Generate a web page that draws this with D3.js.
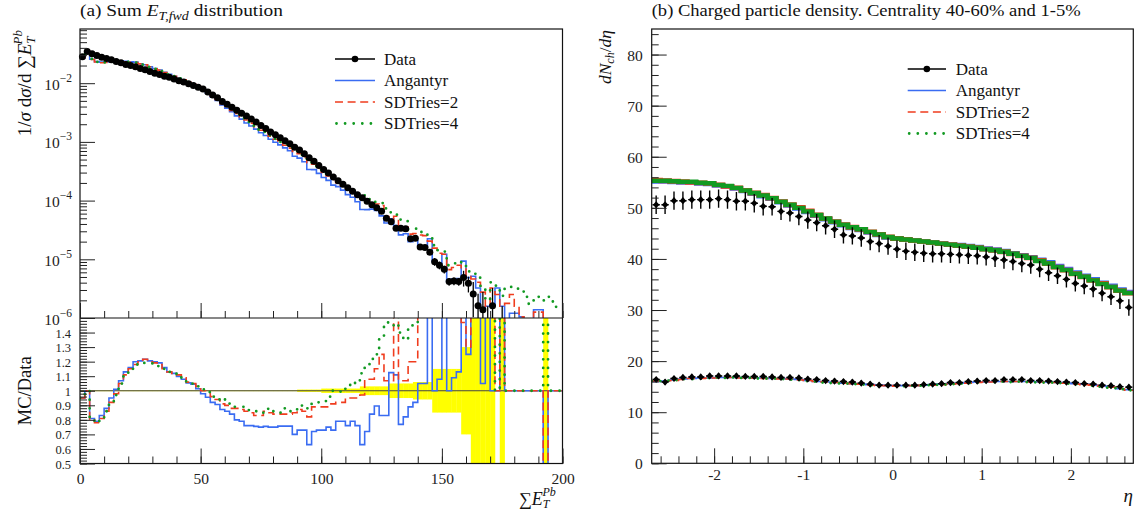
<!DOCTYPE html>
<html><head><meta charset="utf-8">
<script src="https://cdn.jsdelivr.net/npm/d3@7"></script>
<style>body{margin:0;background:#fff}</style>
</head><body>
<script>
// ---------------- DATA ----------------
// (a) Sum E_T (Pb side), bins of width 2 from 0 to 200; values stored as log10 of 1/sigma dsigma/dSumET
const etEdges = d3.range(0, 202, 2);
const etDataLog10 = [-1.55,-1.46,-1.50,-1.53,-1.56,-1.58,-1.60,-1.63,-1.65,-1.68,
 -1.70,-1.72,-1.75,-1.77,-1.80,-1.83,-1.85,-1.88,-1.90,-1.93,
 -1.96,-1.98,-2.01,-2.04,-2.07,-2.10,-2.15,-2.20,-2.25,-2.31,
 -2.36,-2.41,-2.46,-2.51,-2.56,-2.61,-2.66,-2.72,-2.77,-2.83,
 -2.88,-2.93,-2.98,-3.03,-3.09,-3.14,-3.20,-3.27,-3.33,-3.40,
 -3.47,-3.53,-3.60,-3.66,-3.72,-3.78,-3.84,-3.90,-3.95,-4.01,
 -4.07,-4.12,-4.18,-4.30,-4.36,-4.47,-4.47,-4.48,-4.65,-4.64,
 -4.79,-4.80,-4.88,-5.04,-5.10,-5.17,-5.38,-5.37,-5.38,-5.31,
 -5.41,-5.59,-5.79,-5.86,-6.10,-5.79,null,-6.10,null,null,
 null,null,null,null,null,null,-6.40,null,null,null];
const etDataRelErr = [0.003,0.003,0.003,0.003,0.003,0.003,0.003,0.003,0.003,0.003,
 0.003,0.003,0.003,0.003,0.003,0.003,0.003,0.003,0.003,0.003,
 0.003,0.003,0.003,0.003,0.003,0.003,0.003,0.003,0.003,0.003,
 0.003,0.003,0.003,0.003,0.003,0.003,0.003,0.003,0.003,0.003,
 0.003,0.003,0.003,0.003,0.003,0.008,0.008,0.008,0.008,0.008,
 0.015,0.015,0.015,0.015,0.015,0.015,0.015,0.015,0.03,0.03,
 0.03,0.03,0.03,0.03,0.05,0.05,0.05,0.05,0.05,0.06,
 0.06,0.06,0.06,0.15,0.15,0.15,0.15,0.15,0.15,0.3,
 0.3,0.6,0.6,1.0,1.0,1.0,null,1.0,null,null,
 null,null,null,null,null,null,1.0,null,null,null];
const etAngantyrLog10 = [-1.572,-1.46,-1.592,-1.632,-1.641,-1.636,-1.622,-1.626,-1.621,-1.627,
 -1.636,-1.641,-1.669,-1.685,-1.719,-1.751,-1.774,-1.816,-1.847,-1.881,
 -1.919,-1.947,-1.987,-2.021,-2.064,-2.109,-2.170,-2.236,-2.293,-2.370,
 -2.426,-2.486,-2.557,-2.612,-2.679,-2.729,-2.782,-2.845,-2.892,-2.955,
 -3.005,-3.051,-3.101,-3.151,-3.245,-3.277,-3.337,-3.471,-3.473,-3.537,
 -3.607,-3.655,-3.737,-3.762,-3.822,-3.899,-3.942,-4.019,-4.151,-4.153,
 -4.146,-4.168,-4.261,-4.381,-4.309,-4.425,-4.584,-4.566,-4.701,-4.676,
 -4.769,-4.779,-4.650,-5.040,-5.067,-4.915,-5.380,-5.333,-5.327,-5.031,
 -5.313,-5.289,-5.489,-5.839,-5.799,-5.790,-5.490,-5.799,null,-5.92,
 -5.92,-5.98,null,null,-5.86,-5.86,null,null,null,null];
const etSDTries2Log10 = [-1.572,-1.46,-1.597,-1.638,-1.652,-1.646,-1.636,-1.639,-1.629,-1.635,
 -1.639,-1.648,-1.671,-1.685,-1.721,-1.754,-1.778,-1.819,-1.847,-1.881,
 -1.915,-1.943,-1.985,-2.019,-2.057,-2.100,-2.154,-2.218,-2.277,-2.351,
 -2.406,-2.466,-2.516,-2.570,-2.626,-2.681,-2.741,-2.801,-2.836,-2.901,
 -2.956,-3.006,-3.056,-3.106,-3.161,-3.200,-3.266,-3.356,-3.381,-3.451,
 -3.521,-3.581,-3.641,-3.696,-3.756,-3.802,-3.862,-3.922,-3.963,-3.977,
 -4.037,-4.059,-4.083,-4.271,-4.331,-4.266,-4.441,-4.451,-4.571,-4.561,
 -4.586,-4.596,-4.690,-4.810,-4.896,-4.915,-5.176,-5.140,-5.101,-5.143,
 -5.296,-5.335,-5.392,-5.559,-5.799,-5.489,-5.600,-5.799,-5.75,-5.60,
 -5.80,-5.98,-6.05,null,-5.90,-5.90,null,null,null,null];
const etSDTries4Log10 = [-1.572,-1.46,-1.586,-1.638,-1.652,-1.646,-1.636,-1.643,-1.629,-1.639,
 -1.639,-1.648,-1.674,-1.694,-1.724,-1.758,-1.782,-1.819,-1.847,-1.881,
 -1.919,-1.947,-1.985,-2.019,-2.057,-2.096,-2.154,-2.218,-2.277,-2.342,
 -2.387,-2.456,-2.511,-2.561,-2.620,-2.676,-2.726,-2.791,-2.830,-2.886,
 -2.946,-3.001,-3.036,-3.096,-3.150,-3.191,-3.246,-3.326,-3.366,-3.436,
 -3.502,-3.548,-3.600,-3.660,-3.724,-3.767,-3.815,-3.879,-3.901,-3.938,
 -3.984,-4.023,-4.043,-4.133,-4.199,-4.240,-4.324,-4.350,-4.489,-4.479,
 -4.535,-4.570,-4.625,-4.761,-4.845,-4.869,-5.101,-5.069,-5.038,-5.055,
 -5.206,-5.248,-5.313,-5.462,-5.702,-5.392,-5.450,-5.623,-5.50,-5.47,
 -5.50,-5.55,-5.64,-5.76,-5.70,-5.64,-5.70,-5.64,-5.81,-5.81];

// (b) dNch/deta, 54 bins of width 0.1 from -2.7 to 2.7
const etaEdges = d3.range(55).map(i => +(-2.7 + 0.1 * i).toFixed(2));
const cent1to5Data = [50.6,50.6,51.4,51.4,51.6,51.6,51.6,51.8,51.6,51.3,51.3,50.9,50.3,50.2,49.3,49.0,48.3,47.6,47.1,46.5,45.8,44.7,44.5,44.1,43.4,43.0,42.5,
 41.9,41.5,41.3,41.1,41.0,41.0,40.9,40.8,40.7,40.6,40.4,40.1,39.8,39.5,39.1,38.8,38.0,37.3,36.7,36.0,35.2,34.7,34.1,33.3,32.6,31.8,30.5];
const cent1to5Err = [1.8,1.8,1.8,1.8,1.8,1.8,1.8,1.8,1.8,1.8,1.8,1.8,1.8,1.7,1.7,1.7,1.7,1.7,1.7,1.7,1.7,1.7,1.7,1.7,1.7,1.7,1.7,
 1.7,1.7,1.7,1.7,1.7,1.7,1.7,1.7,1.7,1.7,1.7,1.7,1.7,1.7,1.7,1.7,1.6,1.6,1.6,1.6,1.6,1.6,1.6,1.6,1.6,1.6,1.6];
const cent1to5Angantyr = [55.2,55.2,55.1,55.0,55.0,54.8,54.7,54.4,54.2,53.8,53.3,52.8,52.3,51.8,51.1,50.5,49.9,49.2,48.5,47.8,47.2,46.6,46.1,45.7,45.2,44.7,44.2,
 44.0,43.8,43.6,43.4,43.2,43.0,42.8,42.7,42.5,42.3,42.0,41.8,41.5,41.1,40.7,40.3,39.8,39.3,38.6,38.0,37.3,36.7,36.0,35.3,34.7,34.0,33.5];
const cent1to5SDTries2 = [55.4,55.3,55.2,55.1,55.0,54.9,54.8,54.5,54.2,53.9,53.4,52.9,52.5,51.9,51.2,50.6,50.1,49.4,48.6,47.9,47.3,46.7,46.2,45.8,45.3,44.8,44.3,
 44.0,43.8,43.6,43.4,43.2,43.0,42.8,42.6,42.4,42.2,41.9,41.7,41.4,41.0,40.6,40.2,39.7,39.1,38.4,37.8,37.1,36.5,35.8,35.2,34.5,33.8,33.3];
const cent1to5SDTries4 = [55.3,55.3,55.2,55.1,55.1,54.9,54.8,54.5,54.3,53.9,53.4,52.9,52.4,51.9,51.2,50.6,50.0,49.3,48.6,47.9,47.3,46.7,46.2,45.8,45.3,44.8,44.3,
 44.0,43.8,43.6,43.4,43.2,43.0,42.8,42.6,42.4,42.2,41.9,41.7,41.4,41.0,40.6,40.2,39.6,39.1,38.4,37.8,37.1,36.5,35.8,35.1,34.5,33.8,33.3];
const cent40to60Data = [16.4,15.9,16.6,16.8,16.9,16.9,17.1,17.1,17.1,17.1,17.0,17.0,17.0,16.9,16.8,16.8,16.7,16.5,16.4,16.2,16.1,16.0,15.9,15.7,15.5,15.3,15.3,
 15.3,15.3,15.3,15.4,15.5,15.6,15.8,15.8,16.0,16.1,16.2,16.2,16.4,16.4,16.4,16.2,16.2,16.1,16.0,15.9,15.8,15.6,15.5,15.3,15.2,15.0,14.9];
const cent40to60Err = [0.5,0.5,0.5,0.5,0.5,0.5,0.5,0.5,0.5,0.5,0.5,0.5,0.5,0.5,0.5,0.5,0.5,0.5,0.5,0.5,0.5,0.5,0.5,0.5,0.5,0.5,0.5,
 0.5,0.5,0.5,0.5,0.5,0.5,0.5,0.5,0.5,0.5,0.5,0.5,0.5,0.5,0.5,0.5,0.5,0.5,0.5,0.5,0.5,0.5,0.5,0.5,0.5,0.5,0.5];
const cent40to60Angantyr = [16.0,16.1,16.3,16.5,16.6,16.7,16.7,16.8,16.8,16.8,16.8,16.7,16.7,16.6,16.6,16.5,16.4,16.2,16.0,15.9,15.8,15.7,15.6,15.5,15.4,15.3,15.2,
 15.2,15.2,15.2,15.3,15.4,15.5,15.6,15.7,15.8,15.9,15.9,16.0,16.0,16.0,16.0,16.0,15.9,15.9,15.8,15.7,15.6,15.5,15.3,15.1,14.9,14.6,14.4];
const cent40to60SDTries2 = [16.1,16.1,16.2,16.4,16.6,16.6,16.7,16.7,16.8,16.7,16.7,16.7,16.6,16.6,16.5,16.5,16.3,16.2,16.0,15.9,15.8,15.7,15.6,15.5,15.3,15.2,15.2,
 15.1,15.2,15.2,15.3,15.3,15.4,15.5,15.6,15.7,15.8,15.9,15.9,16.0,16.0,16.0,15.9,15.9,15.8,15.8,15.7,15.5,15.4,15.3,15.1,14.9,14.6,14.3];
const cent40to60SDTries4 = [16.1,16.2,16.3,16.5,16.5,16.6,16.7,16.8,16.7,16.8,16.7,16.6,16.6,16.6,16.5,16.4,16.3,16.1,16.0,15.8,15.7,15.6,15.5,15.4,15.3,15.2,15.1,
 15.2,15.1,15.2,15.2,15.3,15.4,15.5,15.6,15.7,15.8,15.9,15.9,16.0,15.9,16.0,15.9,15.8,15.8,15.7,15.6,15.5,15.4,15.2,15.0,14.8,14.5,14.3];

const legendLabels = ["Data", "Angantyr", "SDTries=2", "SDTries=4"];
const etLogTicks = [1e-6, 1e-5, 1e-4, 1e-3, 1e-2];
const etLogTickExp = ["−6", "−5", "−4", "−3", "−2"];
const etXTicks = [0, 50, 100, 150, 200];
const ratioTicks = [0.5, 0.6, 0.7, 0.8, 0.9, 1.0, 1.1, 1.2, 1.3, 1.4];
const etaTicks = [-2, -1, 0, 1, 2];
const nchTicks = [0, 10, 20, 30, 40, 50, 60, 70, 80];

// ---------------- STYLE / LAYOUT ----------------
const COL = {blue: "#3a6cf2", red: "#f03c1e", green: "#129a22", yellow: "#ffff00"};
const FONT = '"Liberation Serif", "DejaVu Serif", serif';
const L = {x0: 80, x1: 562.5, top: 29, split: 318, bot: 463.5};
const R = {x0: 651.7, x1: 1133.3, top: 29, bot: 463.3};

const svg = d3.select("body").append("svg").attr("width", 1135).attr("height", 513)
  .style("font-family", FONT);

const xE = d3.scaleLinear().domain([0, 200]).range([L.x0, L.x1]);
const yM = d3.scaleLog().domain([1e-6, 0.0838]).range([L.split, L.top]);
const yRat = d3.scaleLinear().domain([0.5, 1.5]).range([L.bot, L.split]);
const xEta = d3.scaleLinear().domain([-2.7, 2.7]).range([R.x0, R.x1]);
const yN = d3.scaleLinear().domain([0, 85]).range([R.bot, R.top]);

const defs = svg.append("defs");
function clip(id, x, y, w, h) {
  defs.append("clipPath").attr("id", id).append("rect").attr("x", x).attr("y", y).attr("width", w).attr("height", h);
}
clip("cMain", L.x0, L.top, L.x1 - L.x0, L.split - L.top);
clip("cMainPts", L.x0 - 6, L.top, L.x1 - L.x0 + 6, L.split - L.top);
clip("cRat", L.x0, L.split, L.x1 - L.x0, L.bot - L.split);
clip("cR", R.x0, R.top, R.x1 - R.x0, R.bot - R.top);

function stepPts(edges, vals, fill) {
  return vals.flatMap((v, i) => { const y = (v == null) ? fill : v; return [[edges[i], y], [edges[i + 1], y]]; });
}
const styles = {
  blue: {stroke: COL.blue, w: 1.6, dash: null, cap: "butt"},
  red: {stroke: COL.red, w: 1.6, dash: "8,4.6", cap: "butt"},
  green: {stroke: COL.green, w: 2.8, dash: "0,8.6", cap: "round"}
};
function drawStep(g, pts, xs, ys, st) {
  g.append("path").datum(pts)
    .attr("d", d3.line().x(d => xs(d[0])).y(d => ys(d[1])))
    .attr("fill", "none").attr("stroke", st.stroke).attr("stroke-width", st.w)
    .attr("stroke-dasharray", st.dash).attr("stroke-linecap", st.cap).attr("stroke-linejoin", "miter");
}

// ---------------- PANEL (a) main ----------------
const toVal = a => a.map(v => v == null ? null : Math.pow(10, v));
const gMain = svg.append("g").attr("clip-path", "url(#cMain)");
const mcSets = [[etAngantyrLog10, styles.blue], [etSDTries2Log10, styles.red], [etSDTries4Log10, styles.green]];
mcSets.forEach(([arr, st]) => drawStep(gMain, stepPts(etEdges, toVal(arr), 1e-12), xE, yM, st));

const gPts = svg.append("g").attr("clip-path", "url(#cMainPts)");
const etPts = etDataLog10.map((v, i) => ({x: (etEdges[i] + etEdges[i + 1]) / 2, v: v == null ? null : Math.pow(10, v), e: etDataRelErr[i]}))
  .filter(d => d.v != null);
gPts.selectAll("line.err").data(etPts).join("line")
  .attr("x1", d => xE(d.x)).attr("x2", d => xE(d.x))
  .attr("y1", d => yM(Math.max(d.v * (1 - d.e), 1e-12))).attr("y2", d => yM(d.v * (1 + d.e)))
  .attr("stroke", "#000").attr("stroke-width", 1.3);
gPts.selectAll("circle").data(etPts).join("circle")
  .attr("cx", d => xE(d.x)).attr("cy", d => yM(d.v)).attr("r", 3.5).attr("fill", "#000");

// ---------------- PANEL (a) ratio ----------------
const gRat = svg.append("g").attr("clip-path", "url(#cRat)");
gRat.selectAll("rect.band").data(etDataRelErr.map((e, i) => ({e, i})).filter(d => d.e != null)).join("rect")
  .attr("x", d => xE(etEdges[d.i])).attr("width", d => xE(etEdges[d.i + 1]) - xE(etEdges[d.i]) + 0.3)
  .attr("y", d => yRat(1 + d.e)).attr("height", d => yRat(1 - d.e) - yRat(1 + d.e))
  .attr("fill", COL.yellow);
gRat.append("line").attr("x1", L.x0).attr("x2", L.x1).attr("y1", yRat(1)).attr("y2", yRat(1))
  .attr("stroke", "#444").attr("stroke-width", 1.2);
mcSets.forEach(([arr, st]) => {
  const ratio = arr.map((m, i) => etDataLog10[i] == null ? 1 : (m == null ? 0 : Math.pow(10, m - etDataLog10[i])));
  drawStep(gRat, stepPts(etEdges, ratio, 1), xE, yRat, st);
});

// ---------------- PANEL (b) ----------------
const gR = svg.append("g").attr("clip-path", "url(#cR)");
// central (1-5%) - thick overlapping MC
[[cent1to5Angantyr, {stroke: COL.blue, w: 4.8, dash: null, cap: "butt"}],
 [cent1to5SDTries2, {stroke: COL.red, w: 4.8, dash: null, cap: "butt"}],
 [cent1to5SDTries4, {stroke: COL.green, w: 4.4, dash: null, cap: "butt"}]]
  .forEach(([arr, st]) => drawStep(gR, stepPts(etaEdges, arr, 0), xEta, yN, st));
// peripheral (40-60%)
[[cent40to60Angantyr, styles.blue], [cent40to60SDTries2, styles.red], [cent40to60SDTries4, styles.green]]
  .forEach(([arr, st]) => drawStep(gR, stepPts(etaEdges, arr, 0), xEta, yN, st));

function etaPoints(vals, errs) {
  return vals.map((v, i) => ({x0: etaEdges[i], x1: etaEdges[i + 1], v, e: errs[i]}));
}
[etaPoints(cent1to5Data, cent1to5Err), etaPoints(cent40to60Data, cent40to60Err)].forEach(pts => {
  const g = gR.append("g");
  g.selectAll("line.v").data(pts).join("line")
    .attr("x1", d => xEta((d.x0 + d.x1) / 2)).attr("x2", d => xEta((d.x0 + d.x1) / 2))
    .attr("y1", d => yN(d.v - d.e)).attr("y2", d => yN(d.v + d.e)).attr("stroke", "#000").attr("stroke-width", 1.4);
  g.selectAll("line.h").data(pts).join("line")
    .attr("x1", d => xEta(d.x0) + 0.8).attr("x2", d => xEta(d.x1) - 0.8)
    .attr("y1", d => yN(d.v)).attr("y2", d => yN(d.v)).attr("stroke", "#000").attr("stroke-width", 1.4);
  g.selectAll("path.m").data(pts).join("path")
    .attr("d", d => `M${xEta((d.x0 + d.x1) / 2)},${yN(d.v) - 3.6}l3.2,3.6l-3.2,3.6l-3.2,-3.6z`).attr("fill", "#000");
});

// ---------------- FRAMES & AXES ----------------
function frame(x0, y0, x1, y1) {
  svg.append("rect").attr("x", x0).attr("y", y0).attr("width", x1 - x0).attr("height", y1 - y0)
    .attr("fill", "none").attr("stroke", "#111").attr("stroke-width", 1.2);
}
frame(L.x0, L.top, L.x1, L.bot);
svg.append("line").attr("x1", L.x0).attr("x2", L.x1).attr("y1", L.split).attr("y2", L.split).attr("stroke", "#111").attr("stroke-width", 1.2);
frame(R.x0, R.top, R.x1, R.bot);

function ticks(axisFn, scale, values, size, tx, ty) {
  const g = svg.append("g").attr("transform", `translate(${tx},${ty})`)
    .call(axisFn(scale).tickValues(values).tickSize(size).tickFormat(""));
  g.select(".domain").remove();
  g.selectAll("line").attr("stroke", "#222").attr("stroke-width", 1);
  return g;
}
function labels(axisFn, scale, values, fmt, pad, tx, ty, size) {
  const g = svg.append("g").attr("transform", `translate(${tx},${ty})`)
    .call(axisFn(scale).tickValues(values).tickSize(0).tickPadding(pad).tickFormat(fmt));
  g.select(".domain").remove();
  g.selectAll("text").style("font-family", FONT).style("font-size", (size || 15.5) + "px").attr("fill", "#222");
  return g;
}
// main y log ticks
const logMinor = [];
[-6, -5, -4, -3, -2].forEach(n => d3.range(2, 10).forEach(k => { const v = k * Math.pow(10, n); if (v < 0.0838) logMinor.push(v); }));
ticks(d3.axisLeft, yM, etLogTicks, -15, L.x0, 0);
ticks(d3.axisLeft, yM, logMinor, -7, L.x0, 0);
const gLog = svg.append("g");
etLogTicks.forEach((t, i) => {
  const tx = gLog.append("text").attr("x", 72).attr("y", yM(t) + 6.5).attr("text-anchor", "end")
    .style("font-size", "15.5px").attr("fill", "#222");
  tx.append("tspan").text("10");
  tx.append("tspan").attr("dy", -8).style("font-size", "11.5px").text(etLogTickExp[i]);
});
// x ticks at main bottom and ratio bottom
const etMinor = d3.range(0, 201, 10);
[L.split, L.bot].forEach(yy => {
  ticks(d3.axisBottom, xE, etXTicks, -15, 0, yy);
  ticks(d3.axisBottom, xE, etMinor, -7, 0, yy);
});
labels(d3.axisBottom, xE, etXTicks, d => String(d), 9, 0, L.bot);
// ratio y ticks
ticks(d3.axisLeft, yRat, ratioTicks, -15, L.x0, 0);
ticks(d3.axisLeft, yRat, d3.range(25, 76).map(k => k / 50), -7, L.x0, 0);
labels(d3.axisLeft, yRat, ratioTicks, d => d === 1 ? "1" : d3.format(".1f")(d), 9, L.x0, 0, 12.5)
  .selectAll("text").attr("dy", "0.36em");
// right panel ticks
ticks(d3.axisLeft, yN, nchTicks, -15, R.x0, 0);
ticks(d3.axisLeft, yN, d3.range(0, 85, 2), -7, R.x0, 0);
labels(d3.axisLeft, yN, nchTicks, d => String(d), 9, R.x0, 0).selectAll("text").attr("dy", "0.36em");
ticks(d3.axisBottom, xEta, etaTicks, -15, 0, R.bot);
ticks(d3.axisBottom, xEta, d3.range(-13, 14).map(k => k / 5), -7, 0, R.bot);
labels(d3.axisBottom, xEta, etaTicks, d => d < 0 ? "-" + Math.abs(d) : String(d), 6, 0, R.bot);

// ---------------- TEXTS ----------------
function t(x, y, opts = {}) {
  return svg.append("text").attr("x", x).attr("y", y).attr("fill", "#111")
    .attr("text-anchor", opts.anchor || "start").style("font-size", (opts.size || 16) + "px");
}
// titles
const t1 = t(80, 16, {size: 16});
t1.append("tspan").text("(a) Sum ");
t1.append("tspan").style("font-style", "italic").text("E");
t1.append("tspan").style("font-style", "italic").style("font-size", "11.5px").attr("dy", 4).text("T,fwd");
t1.append("tspan").attr("dy", -4).text(" distribution");
t1.attr("textLength", 203).attr("lengthAdjust", "spacingAndGlyphs");
const t2 = t(651.7, 16, {size: 16}).text("(b) Charged particle density. Centrality 40-60% and 1-5%");
t2.attr("textLength", 429).attr("lengthAdjust", "spacingAndGlyphs");

// y label (a)
const gy1 = svg.append("g").attr("transform", "translate(31,30) rotate(-90)");
const yl = gy1.append("text").attr("text-anchor", "end").style("font-size", "19px").attr("fill", "#111");
yl.append("tspan").text("1/");
yl.append("tspan").style("font-style", "italic").text("σ");
yl.append("tspan").text(" d");
yl.append("tspan").style("font-style", "italic").text("σ");
yl.append("tspan").text("/d ∑");
yl.append("tspan").style("font-style", "italic").text("E");
yl.append("tspan").style("font-style", "italic").style("font-size", "13px").attr("dy", 4).text("T");
yl.append("tspan").style("font-style", "italic").style("font-size", "13px").attr("dx", -8).attr("dy", -13).text("Pb");
svg.append("g").attr("transform", `translate(31,${yRat(1)}) rotate(-90)`)
  .append("text").attr("text-anchor", "middle").style("font-size", "18.5px").attr("fill", "#111").text("MC/Data");
// x label (a)
const xl = t(519, 505, {size: 18});
xl.append("tspan").text("∑");
xl.append("tspan").style("font-style", "italic").text("E");
xl.append("tspan").style("font-style", "italic").style("font-size", "12px").attr("dy", 3).text("T");
xl.append("tspan").style("font-style", "italic").style("font-size", "12px").attr("dx", -7).attr("dy", -12).text("Pb");
// y label (b)
const gy2 = svg.append("g").attr("transform", "translate(611,30) rotate(-90)");
const yl2 = gy2.append("text").attr("text-anchor", "end").style("font-size", "17.5px").attr("fill", "#111");
yl2.append("tspan").style("font-style", "italic").text("dN");
yl2.append("tspan").style("font-style", "italic").style("font-size", "12px").attr("dy", 3).text("ch");
yl2.append("tspan").attr("dy", -3).text("/");
yl2.append("tspan").style("font-style", "italic").text("dη");
// x label (b)
t(1133, 502, {size: 19, anchor: "end"}).style("font-style", "italic").text("η");

// ---------------- LEGENDS ----------------
function legend(x0, x1, tx, ys) {
  const g = svg.append("g");
  const st = [null, styles.blue, styles.red, styles.green];
  legendLabels.forEach((lab, i) => {
    const y = ys[i];
    if (i === 0) {
      g.append("line").attr("x1", x0).attr("x2", x1).attr("y1", y).attr("y2", y).attr("stroke", "#000").attr("stroke-width", 1.5);
      g.append("circle").attr("cx", (x0 + x1) / 2).attr("cy", y).attr("r", 3.3).attr("fill", "#000");
    } else {
      const s = st[i];
      g.append("line").attr("x1", x0 + (i === 3 ? 1.5 : 0)).attr("x2", x1).attr("y1", y).attr("y2", y)
        .attr("stroke", s.stroke).attr("stroke-width", s.w).attr("stroke-dasharray", s.dash).attr("stroke-linecap", s.cap);
    }
    g.append("text").attr("x", tx).attr("y", y + 5.5).style("font-size", "17px").attr("fill", "#111").text(lab);
  });
}
legend(335, 375, 384, [59, 80.5, 102, 123.5]);
legend(907.7, 946, 955.7, [69, 90.5, 112, 133.5]);
</script>
</body></html>
